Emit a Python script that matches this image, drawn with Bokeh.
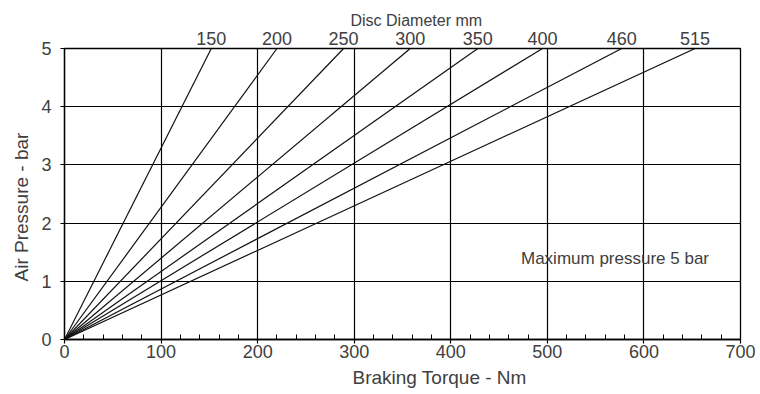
from bokeh.plotting import figure
from bokeh.models import Range1d, Label, FixedTicker, LinearAxis, Title
from bokeh.embed import file_html
from bokeh.resources import INLINE

# ---- data ----
diameters = ["150", "200", "250", "300", "350", "400", "460", "515"]
torque_at_max = [152, 220, 289, 358, 428, 495, 577, 653]   # Nm at 5 bar
max_pressure = 5
x_ticks = [0, 100, 200, 300, 400, 500, 600, 700]
x_minor = [20, 40, 60, 80, 120, 140, 160, 180, 220, 240, 260, 280, 320, 340,
           360, 380, 420, 440, 460, 480, 520, 540, 560, 580, 620, 640, 660,
           680]
y_ticks = [0, 1, 2, 3, 4, 5]
x_title = "Braking Torque - Nm"
y_title = "Air Pressure - bar"
top_title = "Disc Diameter mm"
note = "Maximum pressure 5 bar"

FONT = "Liberation Sans"
TXT = "#404040"

p = figure(frame_width=676, frame_height=291,
           min_border_left=64, min_border_right=16,
           min_border_top=48, min_border_bottom=54,
           x_range=Range1d(0, 700), y_range=Range1d(0, 5),
           output_backend="svg", toolbar_location=None,
           background_fill_color="white", border_fill_color="white")

p.outline_line_color = "black"
p.outline_line_width = 1.3

# axes
p.xaxis.ticker = FixedTicker(ticks=x_ticks, minor_ticks=x_minor)
p.yaxis.ticker = FixedTicker(ticks=y_ticks)
for ax in (p.xaxis, p.yaxis):
    ax.axis_line_color = "black"
    ax.axis_line_width = 1.3
    ax.major_tick_line_color = "black"
    ax.major_tick_line_width = 1.2
    ax.major_tick_in = 0
    ax.major_tick_out = 4
    ax.major_label_text_font = FONT
    ax.major_label_text_font_size = "18px"
    ax.major_label_text_color = TXT
p.xaxis.minor_tick_line_color = "black"
p.xaxis.minor_tick_line_width = 1.0
p.xaxis.minor_tick_in = 5
p.xaxis.minor_tick_out = 0
p.xaxis.major_label_standoff = 1
p.yaxis.minor_tick_line_color = None
p.yaxis.major_label_standoff = 9

# diameter labels along the top via an extra axis
top_axis = LinearAxis(ticker=FixedTicker(ticks=torque_at_max, minor_ticks=[]),
                      major_label_overrides=dict(zip(torque_at_max, diameters)),
                      axis_line_color=None, major_tick_line_color=None,
                      minor_tick_line_color=None,
                      major_tick_in=0, major_tick_out=0,
                      major_label_standoff=4,
                      major_label_text_font=FONT,
                      major_label_text_font_size="18px",
                      major_label_text_color=TXT)
p.add_layout(top_axis, "above")

# titles
p.add_layout(Title(text=top_title, align="left", offset=286, standoff=0,
                   text_font=FONT, text_font_size="16px",
                   text_font_style="normal", text_color=TXT), "above")
p.add_layout(Title(text=x_title, align="left", offset=288, standoff=8,
                   text_font=FONT, text_font_size="19px",
                   text_font_style="normal", text_color=TXT), "below")
p.add_layout(Title(text=y_title, align="left", offset=58, standoff=14,
                   text_font=FONT, text_font_size="19px",
                   text_font_style="normal", text_color=TXT), "left")

# grid
p.xgrid.ticker = FixedTicker(ticks=x_ticks)
p.ygrid.ticker = FixedTicker(ticks=y_ticks)
for g in (p.xgrid, p.ygrid):
    g.grid_line_color = "black"
    g.grid_line_alpha = 1.0
    g.grid_line_width = 1.2

# lines from origin to torque at max pressure
n = len(torque_at_max)
p.segment(x0=[0] * n, y0=[0] * n, x1=torque_at_max, y1=[max_pressure] * n,
          line_color="#111111", line_width=1.2)

p.add_layout(Label(x=472.7, y=1.385, text=note,
                   text_align="left", text_baseline="alphabetic",
                   text_font=FONT, text_font_size="17px", text_color=TXT))

open("out.html", "w").write(file_html(p, INLINE))
